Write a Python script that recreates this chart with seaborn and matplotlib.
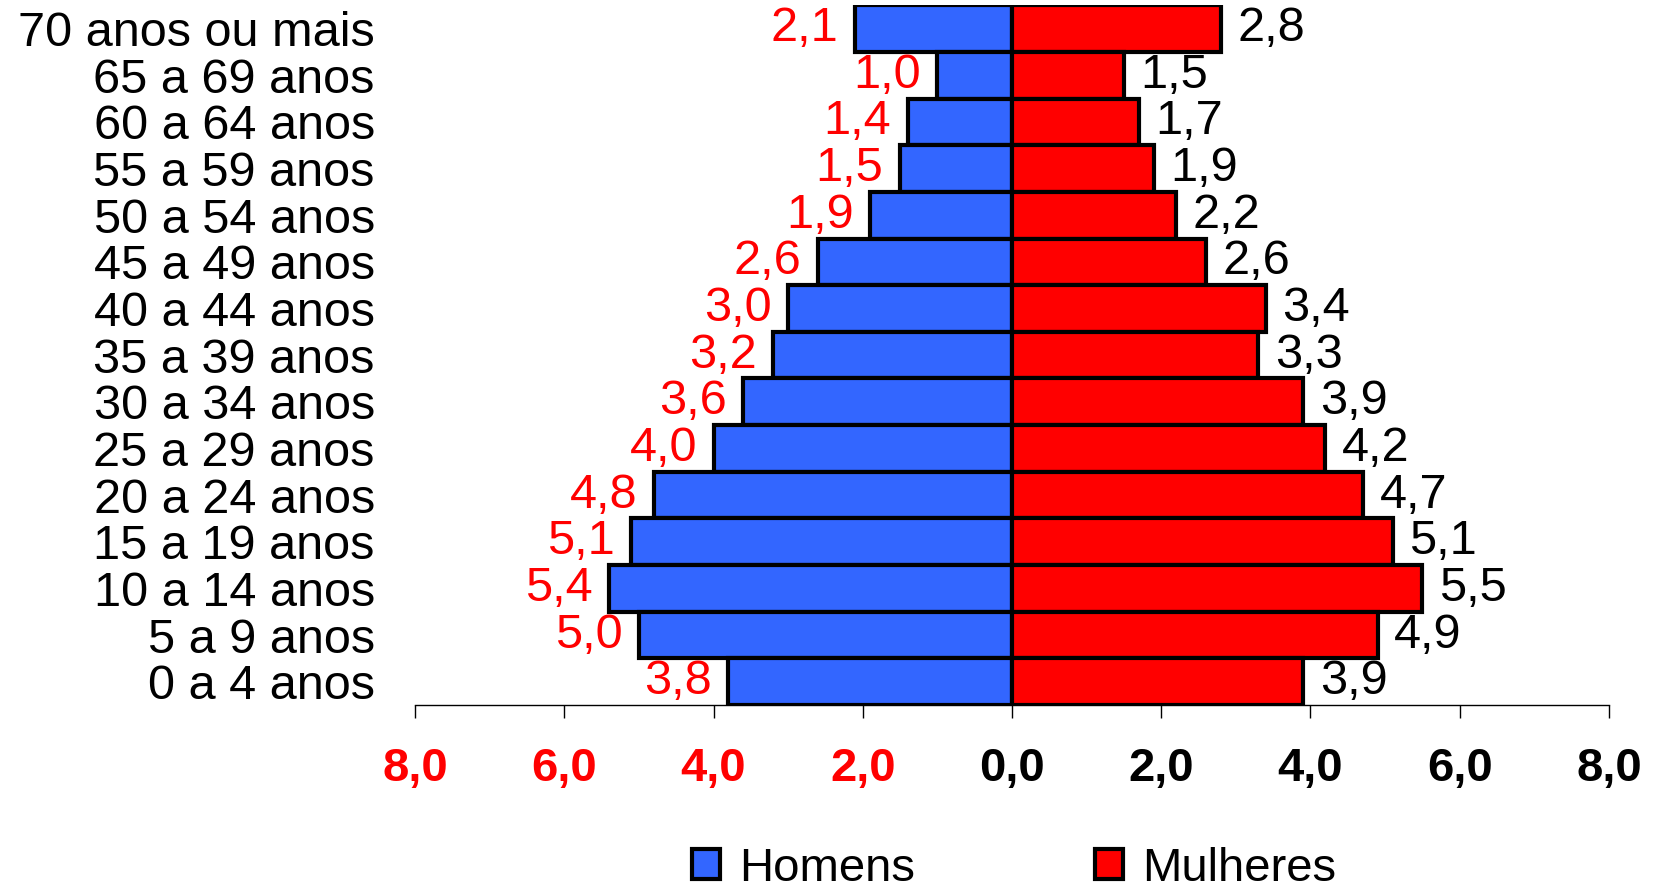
import matplotlib
matplotlib.use('Agg')
import matplotlib.pyplot as plt
import seaborn as sns
import pandas as pd
from matplotlib.patches import Patch

# ---------------- Dados (de cima para baixo) ----------------
faixas = ['70 anos ou mais', '65 a 69 anos', '60 a 64 anos', '55 a 59 anos',
          '50 a 54 anos', '45 a 49 anos', '40 a 44 anos', '35 a 39 anos',
          '30 a 34 anos', '25 a 29 anos', '20 a 24 anos', '15 a 19 anos',
          '10 a 14 anos', '5 a 9 anos', '0 a 4 anos']
homens = [2.1, 1.0, 1.4, 1.5, 1.9, 2.6, 3.0, 3.2, 3.6, 4.0, 4.8, 5.1, 5.4, 5.0, 3.8]
mulheres = [2.8, 1.5, 1.7, 1.9, 2.2, 2.6, 3.4, 3.3, 3.9, 4.2, 4.7, 5.1, 5.5, 4.9, 3.9]
ticks = [-8, -6, -4, -2, 0, 2, 4, 6, 8]

df = pd.DataFrame({'Faixa': faixas,
                   'Homens': [-v for v in homens],
                   'Mulheres': mulheres})

sns.set_style('white')
plt.rcParams['font.family'] = ['Liberation Sans', 'DejaVu Sans']
plt.rcParams['text.color'] = 'black'
plt.rcParams['xtick.color'] = 'black'
plt.rcParams['ytick.color'] = 'black'

cor_h = '#3366FF'
cor_m = '#FF0000'
fs = 35

fig = plt.figure(figsize=(16.57, 8.96), dpi=100)
ax = fig.add_axes([0.2505, 0.2132, 0.7205, 0.7808])

sns.barplot(data=df, y='Faixa', x='Homens', order=faixas, color=cor_h,
            width=1.0, edgecolor='black', linewidth=3, saturation=1, ax=ax)
sns.barplot(data=df, y='Faixa', x='Mulheres', order=faixas, color=cor_m,
            width=1.0, edgecolor='black', linewidth=3, saturation=1, ax=ax)

# rótulos de valores
for i, (h, m) in enumerate(zip(homens, mulheres)):
    ax.annotate(f'{h:.1f}'.replace('.', ','), xy=(-h, i), xytext=(-12, 0),
                textcoords='offset points', ha='right', va='center',
                color='red', fontsize=fs)
    ax.annotate(f'{m:.1f}'.replace('.', ','), xy=(m, i), xytext=(12, 0),
                textcoords='offset points', ha='left', va='center',
                color='black', fontsize=fs)

ax.set_xlim(-8, 8)
ax.set_ylim(14.5, -0.5)
ax.set_xticks(ticks)
ax.set_xticklabels([f'{abs(t):.1f}'.replace('.', ',') for t in ticks],
                   fontsize=fs - 1, fontweight='bold')
for t, lab in zip(ticks, ax.get_xticklabels()):
    lab.set_color('red' if t < 0 else 'black')
ax.tick_params(axis='x', direction='out', length=9.5, width=1, pad=21, bottom=True)
ax.tick_params(axis='y', length=0, pad=29, labelsize=fs, labelcolor='black')
ax.set_xlabel('')
ax.set_ylabel('')

for s in ['top', 'right', 'left']:
    ax.spines[s].set_visible(False)
ax.spines['bottom'].set_linewidth(1)
ax.spines['bottom'].set_color('black')

handles = [Patch(facecolor=cor_h, edgecolor='black', linewidth=3, label='Homens'),
           Patch(facecolor=cor_m, edgecolor='black', linewidth=3, label='Mulheres')]
fig.legend(handles=handles, loc='center', bbox_to_anchor=(0.612, 0.03), ncol=2,
           frameon=False, fontsize=fs - 1, handlelength=0.6, handleheight=0.6,
           handletextpad=0.4, columnspacing=3.8, borderpad=0.1)

fig.savefig('out.png', dpi=100)
